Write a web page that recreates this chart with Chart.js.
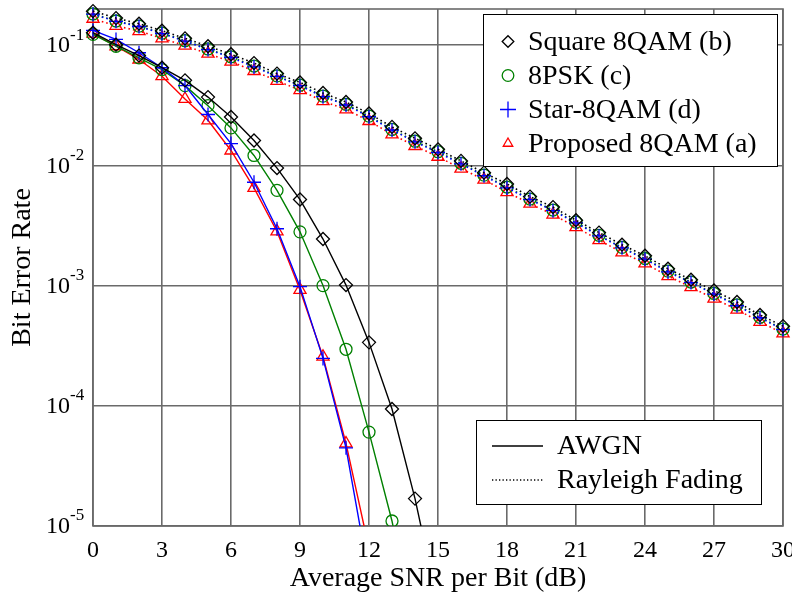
<!DOCTYPE html>
<html>
<head>
<meta charset="utf-8">
<script src="https://cdn.jsdelivr.net/npm/chart.js@4"></script>
<style>
  html, body { margin: 0; padding: 0; background: #fff; }
  canvas { display: block; }
</style>
</head>
<body>
<canvas id="ber" width="792" height="597"></canvas>
<script>
// SNR axes (dB)
const snrAwgn = [0,1,2,3,4,5,6,7,8,9,10,11,12,13,14,15];
const snrRayleigh = [0,1,2,3,4,5,6,7,8,9,10,11,12,13,14,15,16,17,18,19,20,21,22,23,24,25,26,27,28,29,30];

// AWGN curves (solid)
const squareAwgn   = [0.127, 0.101, 0.082, 0.065, 0.051, 0.037, 0.0253, 0.0161, 0.0095, 0.0052, 0.00244, 0.00101, 0.000337, 0.000094, 0.0000169, 0.0000022];
const psk8Awgn     = [0.123, 0.098, 0.0785, 0.0627, 0.0461, 0.0314, 0.0205, 0.0121, 0.0062, 0.0028, 0.00100, 0.000295, 0.0000604, 0.0000110, 0.0000013];
const starAwgn     = [0.1326, 0.1116, 0.0865, 0.0649, 0.0461, 0.0265, 0.0152, 0.00724, 0.00297, 0.00098, 0.000248, 0.0000447, 0.0000038];
const proposedAwgn = [0.125, 0.098, 0.076, 0.0552, 0.0357, 0.0237, 0.0133, 0.0065, 0.00282, 0.00092, 0.000256, 0.0000486, 0.0000065];

// Rayleigh fading curves (dotted)
const squareRay   = [0.192, 0.168, 0.151, 0.132, 0.114, 0.098, 0.084, 0.071, 0.058, 0.049, 0.040, 0.0337, 0.027, 0.0209, 0.0168, 0.0136, 0.0109, 0.0087, 0.0070, 0.0055, 0.0045, 0.0035, 0.00276, 0.00219, 0.00177, 0.00138, 0.00112, 0.00091, 0.00073, 0.00057, 0.00046];
const psk8Ray     = [0.182, 0.159, 0.144, 0.126, 0.109, 0.093, 0.080, 0.067, 0.0555, 0.0465, 0.0377, 0.0322, 0.0257, 0.0199, 0.0159, 0.0130, 0.0104, 0.0083, 0.0066, 0.00525, 0.00425, 0.00337, 0.00262, 0.00208, 0.00168, 0.00132, 0.00107, 0.00086, 0.00069, 0.000545, 0.000435];
const starRay     = [0.181, 0.158, 0.143, 0.125, 0.108, 0.092, 0.079, 0.066, 0.055, 0.046, 0.0373, 0.0318, 0.0254, 0.0197, 0.0157, 0.0128, 0.0103, 0.0082, 0.0065, 0.0052, 0.0042, 0.00333, 0.00259, 0.00206, 0.00166, 0.0013, 0.00106, 0.00085, 0.00068, 0.00054, 0.00043];
const proposedRay = [0.166, 0.145, 0.131, 0.114, 0.099, 0.085, 0.073, 0.061, 0.0505, 0.0423, 0.0342, 0.0292, 0.0234, 0.0181, 0.0145, 0.0118, 0.0094, 0.0076, 0.006, 0.0048, 0.0039, 0.00306, 0.00239, 0.00189, 0.00153, 0.0012, 0.00097, 0.00078, 0.00063, 0.0005, 0.0004];

const xTicks = [0,3,6,9,12,15,18,21,24,27,30];
const yTicks = [1e-5, 1e-4, 1e-3, 1e-2, 1e-1];
const yTickExp = ['-5','-4','-3','-2','-1'];

const schemeNames = ['Square 8QAM (b)', '8PSK (c)', 'Star-8QAM (d)', 'Proposed 8QAM (a)'];
const schemeColors = ['#000000', '#008000', '#0000ff', '#ff0000'];
const schemeMarkers = ['rectRot', 'circle', 'cross', 'triangle'];
const schemeRadius = [6.5, 6, 7, 7];
const channelNames = ['AWGN', 'Rayleigh Fading'];

const SERIF = "'Liberation Serif', 'Times New Roman', Times, serif";
const GRID = '#6a6a6a';

function pts(xs, ys){
  return ys.map((y,i)=>({x:xs[i], y:y}));
}

const awgnSets = [squareAwgn, psk8Awgn, starAwgn, proposedAwgn];
const raySets = [squareRay, psk8Ray, starRay, proposedRay];
const drawOrder = [1, 3, 2, 4]; // lower = drawn on top

const datasets = [];
schemeNames.forEach((name,i)=>{
  const common = {
    borderColor: schemeColors[i],
    backgroundColor: 'rgba(0,0,0,0)',
    pointStyle: schemeMarkers[i],
    pointRadius: schemeRadius[i],
    pointBorderColor: schemeColors[i],
    pointBackgroundColor: 'rgba(0,0,0,0)',
    pointBorderWidth: 1.3,
    tension: 0,
    clip: {left:10, top:10, right:10, bottom:0},
    order: drawOrder[i]
  };
  datasets.push(Object.assign({label: name+' '+channelNames[0], data: pts(snrAwgn, awgnSets[i]), borderWidth: 1.4}, common));
  datasets.push(Object.assign({label: name+' '+channelNames[1], data: pts(snrRayleigh, raySets[i]), borderWidth: 1.6, borderDash: [1.6, 3]}, common));
});

function marker(ctx, style, r, x, y, color){
  ctx.save();
  ctx.strokeStyle = color;
  ctx.fillStyle = 'rgba(0,0,0,0)';
  ctx.lineWidth = 1.3;
  if (Chart.helpers && Chart.helpers.drawPoint){
    Chart.helpers.drawPoint(ctx, {pointStyle: style, radius: r, borderWidth: 1.3, rotation: 0}, x, y);
  }
  ctx.restore();
}

const framePlugin = {
  id: 'frame',
  beforeDatasetsDraw(chart){
    const {ctx, chartArea: a} = chart;
    ctx.save();
    ctx.strokeStyle = GRID;
    ctx.lineWidth = 1.6;
    ctx.strokeRect(a.left, a.top, a.right - a.left, a.bottom - a.top);
    ctx.restore();
  }
};

const yLabelPlugin = {
  id: 'ylabels',
  afterDraw(chart){
    const {ctx} = chart;
    const y = chart.scales.y;
    ctx.save();
    ctx.fillStyle = '#000';
    yTicks.forEach((v,i)=>{
      const py = y.getPixelForValue(v);
      ctx.font = '24px ' + SERIF;
      ctx.textAlign = 'right';
      ctx.textBaseline = 'middle';
      ctx.fillText('10', 70, py + 1);
      ctx.font = '17px ' + SERIF;
      ctx.textAlign = 'left';
      ctx.fillText(yTickExp[i], 70, py - 10);
    });
    ctx.restore();
  }
};

const legendPlugin = {
  id: 'legends',
  afterDraw(chart){
    const {ctx} = chart;
    ctx.save();
    // marker legend
    ctx.fillStyle = '#fff';
    ctx.fillRect(483.5, 14.5, 294, 152);
    ctx.strokeStyle = '#000';
    ctx.lineWidth = 1;
    ctx.strokeRect(483.5, 14.5, 294, 152);
    const rows = [41.5, 75.5, 109.5, 143.5];
    ctx.font = '28px ' + SERIF;
    ctx.textAlign = 'left';
    ctx.textBaseline = 'middle';
    schemeNames.forEach((name,i)=>{
      const r = i === 3 ? 5.5 : (i === 2 ? 8 : 5.8);
      marker(ctx, schemeMarkers[i], r, 508, rows[i], schemeColors[i]);
      ctx.fillStyle = '#000';
      ctx.fillText(name, 528, rows[i] + 1);
    });
    // channel legend
    ctx.fillStyle = '#fff';
    ctx.fillRect(476.5, 420.5, 285, 84);
    ctx.strokeStyle = '#000';
    ctx.strokeRect(476.5, 420.5, 285, 84);
    const lrows = [446, 480];
    ctx.lineWidth = 1.4;
    ctx.beginPath(); ctx.moveTo(492, lrows[0]); ctx.lineTo(543, lrows[0]); ctx.stroke();
    ctx.setLineDash([1.3, 2.2]);
    ctx.beginPath(); ctx.moveTo(492, lrows[1]); ctx.lineTo(543, lrows[1]); ctx.stroke();
    ctx.setLineDash([]);
    ctx.fillStyle = '#000';
    channelNames.forEach((n,i)=> ctx.fillText(n, 557, lrows[i] + 1));
    ctx.restore();
  }
};

new Chart(document.getElementById('ber'), {
  type: 'line',
  data: {datasets},
  options: {
    responsive: false,
    animation: false,
    layout: {padding: {top: 9, right: 9, left: 0, bottom: 0}},
    plugins: {legend: {display: false}, tooltip: {enabled: false}},
    scales: {
      x: {
        type: 'linear', min: 0, max: 30,
        afterBuildTicks: s => { s.ticks = xTicks.map(v=>({value:v})); },
        afterFit: s => { s.height = 71; s.paddingLeft = 0; s.paddingRight = 0; },
        ticks: {color: '#000', font: {family: SERIF, size: 24}, padding: 10, maxRotation: 0},
        grid: {color: GRID, lineWidth: 1.6, drawTicks: false},
        border: {display: false},
        title: {display: true, text: 'Average SNR per Bit (dB)', color: '#000', font: {family: SERIF, size: 28}, padding: {top: 0, bottom: 2}}
      },
      y: {
        type: 'logarithmic', min: 1e-5, max: 0.2,
        afterBuildTicks: s => { s.ticks = yTicks.map(v=>({value:v})); },
        afterFit: s => { s.width = 93; s.paddingTop = 0; s.paddingBottom = 0; },
        ticks: {display: false},
        grid: {color: GRID, lineWidth: 1.6, drawTicks: false},
        border: {display: false},
        title: {display: true, text: 'Bit Error Rate', color: '#000', font: {family: SERIF, size: 28}, padding: {top: 6, bottom: 0}}
      }
    }
  },
  plugins: [framePlugin, yLabelPlugin, legendPlugin]
});
</script>
</body>
</html>
